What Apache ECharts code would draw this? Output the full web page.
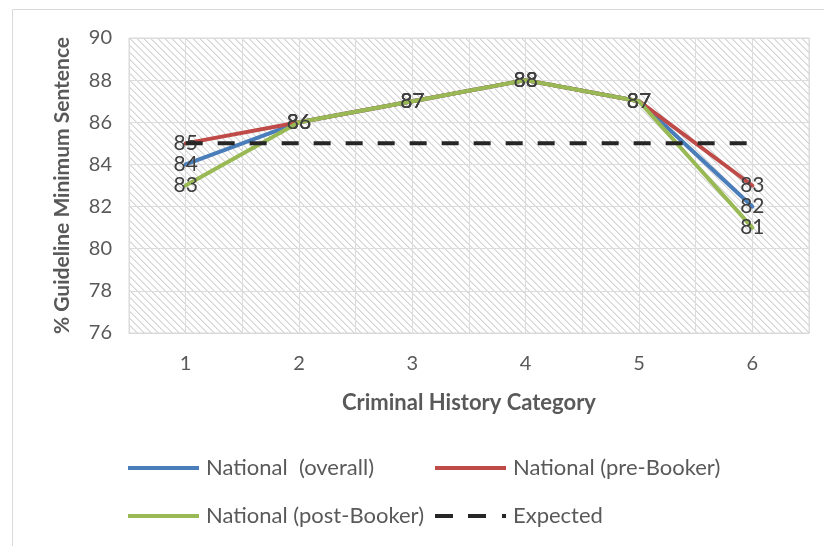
<!DOCTYPE html>
<html>
<head>
<meta charset="utf-8">
<script src="https://cdn.jsdelivr.net/npm/echarts@6/dist/echarts.min.js"></script>
<style>
html,body{margin:0;padding:0;background:#fff;}
#chart{width:824px;height:546px;}
</style>
</head>
<body>
<div id="chart"></div>
<script>
const categories = [1, 2, 3, 4, 5, 6];
const overall = [84, 86, 87, 88, 87, 82];
const preBooker = [85, 86, 87, 88, 87, 83];
const postBooker = [83, 86, 87, 88, 87, 81];
const expected = [85, 85, 85, 85, 85, 85];
const yTicks = {min: 76, max: 90, step: 2};

const FONT = 'Lato, "Open Sans", sans-serif';

// hatch pattern
const P = 7;
const pc = document.createElement('canvas');
pc.width = P; pc.height = P;
const pctx = pc.getContext('2d');
pctx.fillStyle = '#ffffff';
pctx.fillRect(0, 0, P, P);
pctx.fillStyle = '#d6d6d6';
for (let i = 0; i < P; i++) pctx.fillRect(i, i, 1, 1);
pctx.fillStyle = '#e6e6e6';
for (let i = 0; i < P; i++) pctx.fillRect((i + 1) % P, i, 1, 1);

function pairs(arr) { return arr.map((v, i) => [categories[i], v]); }

const chart = echarts.init(document.getElementById('chart'), null, {renderer: 'canvas'});

const labelCfg = {
  show: true, position: 'inside', color: '#404040', fontSize: 21, fontFamily: FONT
};

function lineSeries(name, data, color, z) {
  return {
    name: name, type: 'line', data: pairs(data),
    symbol: 'circle', symbolSize: 0.01, showSymbol: true,
    lineStyle: {color: color, width: 4, cap: 'round', join: 'round'},
    itemStyle: {color: color},
    label: labelCfg, labelLayout: {hideOverlap: false}, z: z,
    emphasis: {disabled: true}
  };
}

const solidIcon = 'path://M0,0H71V4H0Z';
const dashIcon = 'path://M0,0H18V4H0Z M33,0H51V4H33Z M67,0H71V4H67Z';

const legendBase = {
  itemWidth: 71, itemHeight: 4, itemGap: 0,
  textStyle: {fontSize: 22, color: '#595959', fontFamily: FONT, padding: [0, 0, 0, 2]},
  selectedMode: false, padding: 0
};

chart.setOption({
  animation: false,
  backgroundColor: '#ffffff',
  grid: {
    left: 129, top: 38, width: 680, height: 295,
    show: true, borderColor: '#d9d9d9', borderWidth: 1,
    backgroundColor: {image: pc, repeat: 'repeat'}
  },
  xAxis: {
    type: 'value', min: 0.5, max: 6.5, interval: 0.5,
    name: 'Criminal History Category', nameLocation: 'middle', nameGap: 59,
    nameTextStyle: {fontSize: 22, fontWeight: 'bold', color: '#595959', fontFamily: FONT},
    axisLine: {show: true, lineStyle: {color: '#d9d9d9', width: 1}},
    axisTick: {show: false},
    axisLabel: {
      fontSize: 20, color: '#595959', fontFamily: FONT, margin: 21,
      formatter: v => (Number.isInteger(v) && categories.indexOf(v) >= 0) ? String(v) : ''
    },
    splitLine: {show: true, lineStyle: {color: '#dcdcdc', width: 1}}
  },
  yAxis: {
    type: 'value', min: yTicks.min, max: yTicks.max, interval: yTicks.step,
    name: '% Guideline Minimum Sentence', nameLocation: 'middle', nameGap: 56,
    nameTextStyle: {fontSize: 21, fontWeight: 'bold', color: '#595959', fontFamily: FONT},
    axisLine: {show: false}, axisTick: {show: false},
    axisLabel: {fontSize: 20, color: '#595959', fontFamily: FONT, margin: 17},
    splitLine: {show: true, lineStyle: {color: '#dcdcdc', width: 1}}
  },
  legend: [
    Object.assign({}, legendBase, {left: 128, top: 457, icon: solidIcon, data: ['National  (overall)']}),
    Object.assign({}, legendBase, {left: 435, top: 457, icon: solidIcon, data: ['National (pre-Booker)']}),
    Object.assign({}, legendBase, {left: 128, top: 505, icon: solidIcon, data: ['National (post-Booker)']}),
    Object.assign({}, legendBase, {left: 435, top: 505, icon: dashIcon, data: ['Expected']})
  ],
  graphic: [
    {type: 'polyline', silent: true, z: -10,
     shape: {points: [[12.5, 546], [12.5, 9.5], [824, 9.5]]},
     style: {stroke: '#d9d9d9', lineWidth: 1, fill: null}}
  ],
  series: [
    lineSeries('National  (overall)', overall, '#4a7ebb', 3),
    lineSeries('National (pre-Booker)', preBooker, '#be4b48', 4),
    lineSeries('National (post-Booker)', postBooker, '#98b954', 5),
    {
      name: 'Expected', type: 'line', data: pairs(expected), symbol: 'none', showSymbol: false,
      lineStyle: {color: '#262626', width: 4, type: [17, 15], cap: 'butt'},
      itemStyle: {color: '#262626'}, z: 6, emphasis: {disabled: true}
    }
  ]
});
</script>
</body>
</html>
